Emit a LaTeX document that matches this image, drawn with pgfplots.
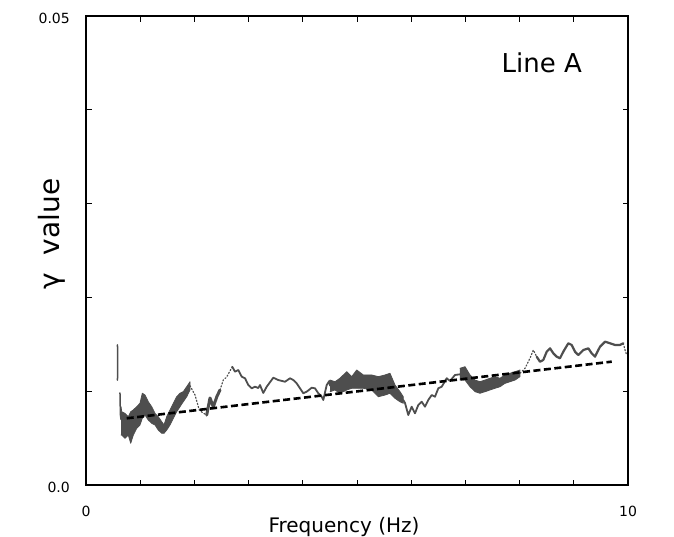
\documentclass[border=0pt]{standalone}
\usepackage{fontspec}
\setmainfont{DejaVu Sans}
\usepackage{pgfplots}
\pgfplotsset{compat=1.18}
\definecolor{curvecol}{RGB}{78,78,78}
\begin{document}
\begin{tikzpicture}
\useasboundingbox (-86pt,-51pt) rectangle (588pt,485pt);
\begin{axis}[
  at={(0,0)}, anchor=south west,
  scale only axis, width=542pt, height=469pt,
  xmin=0, xmax=10, ymin=0, ymax=0.05,
  axis line style={line width=1.2pt},
  every tick/.style={black, line width=1pt},
  major tick length=5.5pt,
  tick align=inside,
  xtick={0,1,2,3,4,5,6,7,8,9,10},
  xticklabels={0,,,,,,,,,,10},
  ytick={0,0.01,0.02,0.03,0.04,0.05},
  yticklabels={0.0,,,,,0.05},
  scaled y ticks=false,
  /pgf/number format/assume math mode=true,
  tick label style={font=\fontsize{14}{14}\selectfont},
  yticklabel style={anchor=east, inner sep=0pt, xshift=-16pt, yshift=-2.5pt},
  xticklabel style={anchor=north, inner sep=0pt, yshift=-21pt},
  xlabel={Frequency (Hz)},
  xlabel style={at={(axis description cs:0.476,0)}, anchor=base, yshift=-47pt, font=\fontsize{20}{20}\selectfont},
  ylabel={γ\ \ value},
  ylabel style={at={(axis description cs:-0.048,0.535)}, anchor=base, font=\fontsize{28}{28}\selectfont},
  every axis plot/.append style={line cap=round, line join=round},
]
% isolated start pieces
\addplot[curvecol, line width=1.5pt] coordinates {(0.581,0.01493) (0.583,0.01311) (0.581,0.01119)};
\addplot[curvecol, line width=1.5pt] coordinates {(0.627,0.00981) (0.635,0.00750) (0.646,0.00700)};
% band B (upper edge, then lower edge back)
\addplot[fill=curvecol, draw=curvecol, line width=0.8pt] coordinates {
 (0.646,0.00835) (0.659,0.00781) (0.720,0.00764) (0.780,0.00728) (0.825,0.00781) (0.873,0.00800)
 (0.935,0.00835) (0.996,0.00871) (1.039,0.00978) (1.089,0.00959) (1.149,0.00888) (1.212,0.00835)
 (1.273,0.00764) (1.334,0.00728) (1.397,0.00675) (1.439,0.00640) (1.489,0.00728) (1.550,0.00800)
 (1.611,0.00871) (1.673,0.00941) (1.734,0.00978) (1.795,0.00995) (1.858,0.01048) (1.919,0.01101)
 (1.919,0.01013) (1.858,0.00941) (1.795,0.00888) (1.734,0.00835) (1.673,0.00781) (1.611,0.00711)
 (1.550,0.00640) (1.489,0.00586) (1.439,0.00551) (1.397,0.00551) (1.334,0.00586) (1.273,0.00640)
 (1.212,0.00658) (1.149,0.00693) (1.089,0.00746) (1.039,0.00711) (0.996,0.00640) (0.935,0.00604)
 (0.873,0.00533) (0.825,0.00445) (0.780,0.00533) (0.720,0.00498) (0.659,0.00533) (0.646,0.00533)};
% C dotted
\addplot[curvecol, line width=1.2pt, dotted] coordinates {(1.919,0.01059) (2.011,0.00959) (2.090,0.00800) (2.159,0.00768) (2.227,0.00746)};
% D
\addplot[curvecol, line width=3pt] coordinates {(2.227,0.00746) (2.288,0.00928) (2.349,0.00832) (2.411,0.00938) (2.472,0.01013)};
% E dotted
\addplot[curvecol, line width=1.2pt, dotted] coordinates {(2.472,0.01013) (2.533,0.01119) (2.596,0.01151) (2.699,0.01261)};
% F
\addplot[curvecol, line width=1.8pt] coordinates {(2.699,0.01261) (2.749,0.01208) (2.810,0.01226) (2.873,0.01155) (2.934,0.01138) (2.994,0.01066) (3.057,0.01031) (3.118,0.01048) (3.179,0.01034) (3.210,0.01066) (3.271,0.00981) (3.334,0.01048) (3.456,0.01144) (3.548,0.01119) (3.672,0.01101) (3.764,0.01138) (3.825,0.01119) (3.887,0.01084) (3.948,0.01031) (4.009,0.00978) (4.072,0.00995) (4.164,0.01037) (4.225,0.01031) (4.286,0.00978) (4.349,0.00941) (4.378,0.00906) (4.441,0.01066) (4.489,0.01109) (4.502,0.01059)};
% band G
\addplot[fill=curvecol, draw=curvecol, line width=0.8pt] coordinates {
 (4.502,0.01119) (4.594,0.01101) (4.686,0.01138) (4.810,0.01208) (4.902,0.01155) (4.995,0.01226)
 (5.116,0.01173) (5.271,0.01173) (5.393,0.01155) (5.517,0.01173) (5.609,0.01191) (5.701,0.01066)
 (5.793,0.00995) (5.854,0.00941)
 (5.854,0.00871) (5.793,0.00888) (5.701,0.00924) (5.609,0.00978) (5.517,0.00959) (5.393,0.00941)
 (5.271,0.01013) (5.116,0.01031) (4.995,0.01031) (4.902,0.01031) (4.810,0.01013) (4.686,0.00978)
 (4.594,0.01013) (4.502,0.00995)};
% H
\addplot[curvecol, line width=1.8pt] coordinates {(5.854,0.00906) (5.886,0.00874) (5.946,0.00746) (6.009,0.00835) (6.070,0.00764) (6.131,0.00853) (6.194,0.00888) (6.255,0.00835) (6.315,0.00906) (6.378,0.00959) (6.439,0.00941) (6.500,0.01031) (6.563,0.01048) (6.655,0.01138) (6.716,0.01109) (6.808,0.01173) (6.900,0.01180)};
% band I
\addplot[fill=curvecol, draw=curvecol, line width=0.8pt] coordinates {
 (6.900,0.01244) (6.993,0.01261) (7.085,0.01173) (7.177,0.01119) (7.269,0.01101) (7.362,0.01119)
 (7.454,0.01138) (7.546,0.01155) (7.638,0.01138) (7.731,0.01173) (7.823,0.01191) (7.915,0.01208)
 (8.007,0.01226)
 (8.007,0.01155) (7.915,0.01119) (7.823,0.01101) (7.731,0.01084) (7.638,0.01048) (7.546,0.01031)
 (7.454,0.01013) (7.362,0.00995) (7.269,0.00978) (7.177,0.00995) (7.085,0.01048) (6.993,0.01119)
 (6.900,0.01119)};
% J dotted
\addplot[curvecol, line width=1.2pt, dotted] coordinates {(8.007,0.01191) (8.100,0.01244) (8.192,0.01351) (8.253,0.01439) (8.315,0.01368)};
% K
\addplot[curvecol, line width=2.2pt] coordinates {(8.315,0.01368) (8.376,0.01314) (8.437,0.01333) (8.500,0.01421) (8.561,0.01457) (8.622,0.01404) (8.684,0.01368) (8.745,0.01351) (8.806,0.01421) (8.899,0.01511) (8.961,0.01493) (9.022,0.01421) (9.083,0.01386) (9.175,0.01439) (9.268,0.01457) (9.330,0.01404) (9.391,0.01368) (9.483,0.01474) (9.576,0.01528) (9.668,0.01511) (9.760,0.01493) (9.852,0.01493) (9.913,0.01511)};
\addplot[curvecol, line width=1.2pt, dotted] coordinates {(9.913,0.01511) (9.945,0.01439) (9.976,0.01386)};
% trend line
\addplot[black, line width=2.6pt, line cap=butt, dash pattern=on 7pt off 3.5pt] coordinates {(0.751,0.00711) (9.70,0.01315)};
\node[font=\fontsize{26}{26}\selectfont, anchor=base] at (axis description cs:0.841,0.879) {Line A};
\end{axis}
\end{tikzpicture}
\end{document}
